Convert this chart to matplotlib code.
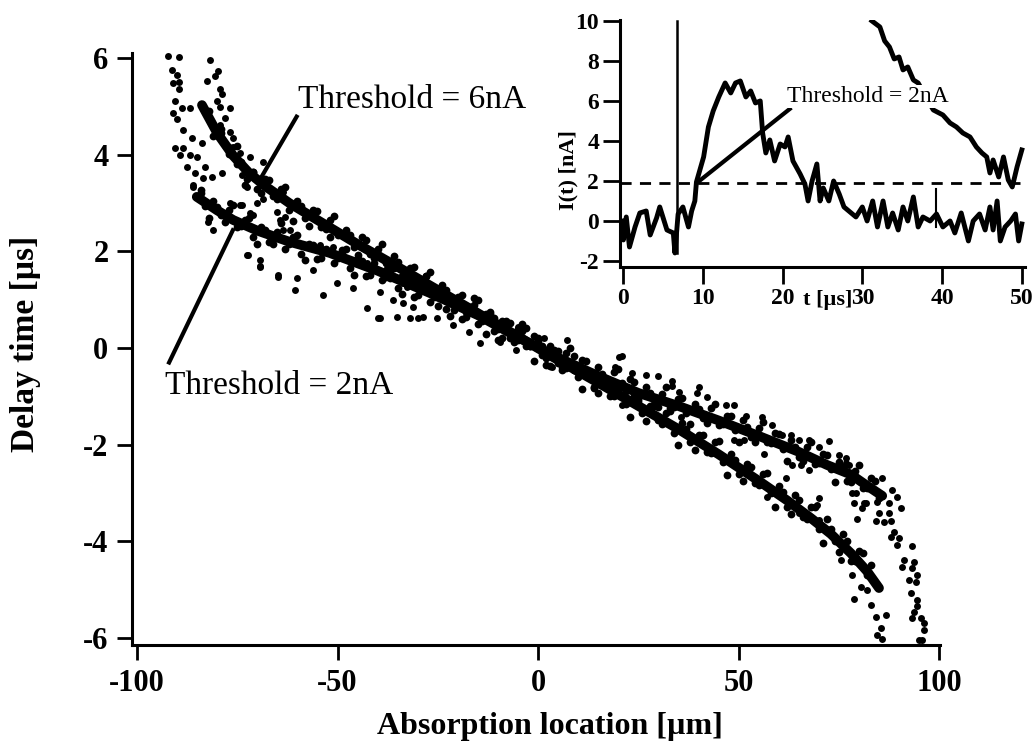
import matplotlib
matplotlib.use("Agg")
import matplotlib.pyplot as plt

plt.rcParams["font.family"] = ["Liberation Serif", "DejaVu Serif"]
plt.rcParams["axes.unicode_minus"] = False

# thick fitted curves (absorption location um, delay time us)
six_x = [-83.8, -80, -76, -72, -68, -62, -55, -45, -35, -25, -15, -5, 5, 15, 25, 35, 45, 55, 62, 68, 73, 78, 82, 85]
six_y = [5.03, 4.45, 3.98, 3.62, 3.35, 3.0, 2.65, 2.15, 1.68, 1.2, 0.72, 0.24, -0.25, -0.72, -1.2, -1.68, -2.2, -2.75, -3.15, -3.52, -3.85, -4.25, -4.62, -4.97]
two_x = [-85.1, -80, -76, -70, -62, -52, -40, -27, -15, -5, 5, 15, 25, 35, 45, 55, 65, 72, 78, 82, 85.8]
two_y = [3.13, 2.85, 2.65, 2.43, 2.2, 1.97, 1.6, 1.14, 0.68, 0.22, -0.2, -0.58, -0.93, -1.2, -1.5, -1.82, -2.15, -2.42, -2.62, -2.85, -3.06]

# measured points along the 6nA band
band6_x = [-82, -80.5, -79, -78, -76.5, -75, -74, -72.5, -71, -70, -68, -66, -64, -62, -60, -58, -56, -54, -52, -50,
           -48, -46, -44, -42, -40, -38, -36, -34, -32, -30, -28, -26, -24, -22, -20, -18, -16, -14, -12, -10,
           -8, -6, -4, -2, 0, 2, 4, 6, 8, 10, 12, 14, 16, 18, 20, 22, 24, 26, 28, 30,
           32, 34, 36, 38, 40, 42, 44, 46, 48, 50, 52, 54, 56, 58, 60, 62, 64, 66, 68, 70,
           72, 74, 76, 78, 80, 82, 83,
           -81, -79, -77, -75, -73, -71, -69, -67, -65, -63, -61, -59, -57, -55, -53, -51, -49, -47, -45, -43,
           -41, -39, -37, -35, -33, -31, -29, -27, -25, -23, -21, -19, -17, -15, -13, -11, -9, -7, -5, -3,
           -1, 1, 3, 5, 7, 9, 11, 13, 15, 17, 19, 21, 23, 25, 27, 29, 31, 33, 35, 37,
           39, 41, 43, 45, 47, 49, 51, 53, 55, 57, 59, 61, 63, 65, 67, 69, 71, 73, 75, 77,
           79, 81]
band6_y = [4.9, 4.55, 4.45, 4.2, 4.15, 3.8, 3.85, 3.5, 3.65, 3.3, 3.5, 3.15, 3.3, 2.85, 3.05, 2.7, 2.85, 2.5, 2.65, 2.35,
           2.45, 2.1, 2.3, 1.95, 2.05, 1.75, 1.9, 1.5, 1.65, 1.35, 1.5, 1.1, 1.3, 0.95, 1.05, 0.75, 0.9, 0.55, 0.7, 0.4,
           0.55, 0.2, 0.35, 0.05, 0.15, -0.2, -0.05, -0.45, -0.3, -0.6, -0.45, -0.8, -0.6, -1.0, -0.8, -1.15, -1.0, -1.35, -1.2, -1.5,
           -1.35, -1.75, -1.55, -1.95, -1.8, -2.15, -1.95, -2.35, -2.2, -2.6, -2.4, -2.8, -2.6, -3.0, -2.85, -3.3, -3.05, -3.5, -3.3, -3.75,
           -3.55, -4.0, -3.85, -4.4, -4.2, -4.7, -4.5,
           4.38, 4.53, 4.02, 4.18, 3.38, 3.65, 3.2, 3.48, 3.09, 3.34, 2.63, 2.95, 2.53, 2.83, 2.47, 2.73, 2.03, 2.35, 1.93, 2.23,
           1.87, 2.15, 1.46, 1.78, 1.36, 1.67, 1.31, 1.58, 0.88, 1.2, 0.78, 1.09, 0.74, 1.0, 0.3, 0.63, 0.21, 0.52, 0.16, 0.42,
           -0.27, 0.05, -0.37, -0.07, -0.42, -0.16, -0.85, -0.53, -0.94, -0.64, -0.99, -0.73, -1.42, -1.1, -1.52, -1.21, -1.57, -1.3, -2.0, -1.68,
           -2.11, -1.81, -2.18, -1.92, -2.63, -2.32, -2.75, -2.46, -2.83, -2.58, -3.3, -2.99, -3.43, -3.15, -3.54, -3.3, -4.04, -3.75, -4.23, -3.99,
           -4.42, -4.25]

# measured points along the 2nA band
band2_x = [-84, -83, -81, -79, -77, -75, -73, -71, -69, -67, -65, -63, -61, -59, -57, -55, -53, -51, -49, -47,
           -45, -43, -41, -39, -37, -35, -33, -31, -29, -27, -25, -23, -21, -19, -17, -15, -13, -11, -9, -7,
           -5, -3, -1, 1, 3, 5, 7, 9, 11, 13, 15, 17, 19, 21, 23, 25, 27, 29, 31, 33,
           35, 37, 39, 41, 43, 45, 47, 49, 51, 53, 55, 57, 59, 61, 63, 65, 67, 69, 71, 73,
           75, 77, 79, 81, 83, 85,
           -84, -82, -80, -78, -76, -74, -72, -70, -68, -66, -64, -62, -60, -58, -56, -54, -52, -50, -48, -46,
           -44, -42, -40, -38, -36, -34, -32, -30, -28, -26, -24, -22, -20, -18, -16, -14, -12, -10, -8, -6,
           -4, -2, 0, 2, 4, 6, 8, 10, 12, 14, 16, 18, 20, 22, 24, 26, 28, 30, 32, 34,
           36, 38, 40, 42, 44, 46, 48, 50, 52, 54, 56, 58, 60, 62, 64, 66, 68, 70, 72, 74,
           76, 78, 80, 82, 84]
band2_y = [3.2, 2.95, 3.05, 2.75, 2.85, 2.5, 2.65, 2.3, 2.5, 2.2, 2.4, 2.05, 2.3, 1.95, 2.15, 1.85, 2.05, 1.75, 1.95, 1.65,
           1.85, 1.5, 1.75, 1.4, 1.6, 1.25, 1.45, 1.05, 1.3, 0.95, 1.15, 0.8, 1.0, 0.6, 0.85, 0.5, 0.7, 0.35, 0.55, 0.2,
           0.4, 0.05, 0.25, -0.15, 0.05, -0.3, -0.1, -0.45, -0.25, -0.55, -0.4, -0.7, -0.5, -0.8, -0.65, -1.05, -0.8, -1.15, -0.95, -1.25,
           -1.05, -1.35, -1.15, -1.45, -1.25, -1.6, -1.4, -1.7, -1.5, -1.85, -1.65, -1.95, -1.75, -2.1, -1.9, -2.25, -2.05, -2.4, -2.2, -2.5,
           -2.35, -2.75, -2.55, -2.9, -2.7, -3.1,
           3.28, 2.69, 2.93, 2.6, 2.97, 2.53, 2.7, 2.15, 2.45, 2.16, 2.58, 2.15, 2.35, 1.83, 2.14, 1.87, 2.29, 1.86, 2.05, 1.51,
           1.81, 1.52, 1.92, 1.48, 1.66, 1.11, 1.4, 1.1, 1.5, 1.05, 1.23, 0.67, 0.95, 0.64, 1.04, 0.58, 0.74, 0.17, 0.44, 0.12,
           0.5, 0.04, 0.21, -0.35, -0.08, -0.39, 0.01, -0.44, -0.27, -0.82, -0.53, -0.83, -0.43, -0.88, -0.7, -1.24, -0.93, -1.22, -0.8, -1.22,
           -1.03, -1.57, -1.27, -1.56, -1.15, -1.58, -1.4, -1.94, -1.64, -1.94, -1.53, -1.97, -1.78, -2.33, -2.04, -2.34, -1.95, -2.39, -2.22, -2.77,
           -2.47, -2.77, -2.42, -2.9, -2.76]

# scattered points away from the bands
spread_x = [-92.3, -89.5, -81.8, -91.3, -90.0, -79.8, -80.6, -91.0, -89.5, -82.6, -89.5, -79.3, -78.8, -90.5, -88.8, -86.8,
            -80.1, -79.3, -76.8, -91.0, -90.0, -78.1, -79.3, -88.5, -76.8, -86.3, -83.8, -76.1, -90.5, -88.5, -89.3, -86.8,
            -85.1, -76.1, -74.3, -71.9, -68.6, -87.5, -83.1, -85.6, -78.8, -86.1, -83.6, -81.3, -73.8, -76.8, -74.3, -71.9,
            -70.1, -82.3, -65.1, -63.1, -63.6, -68.6, -72.6,
            -60.6, -64.9, -39.5, -32.0, -42.7, -53.7, -69.4, -72.6, -81.1, -86.1, -60.1, -56.1, -50.2, -46.1, -39.5, -36.2,
            -31.3, -28.8, -35.2, -40.0, -64.9, -69.4, -72.4, -69.4, -73.8, -71.1, -64.4, -63.6, -61.9, -54.4, -51.2, -46.1,
            -42.7, -37.7, -32.8,
            -30.0, -25.3, -21.3, -17.1, -14.6, -9.6, -5.4, 3.4, 7.1, 1.6, -5.1, 20.3, 19.1, 21.0, -33.7, -31.3, -33.7,
            20.8, 23.5, 27.0, 29.8, 33.5, 33.3, 35.2, 40.2, 39.7, 42.2, 46.9, 48.9, 51.9, 55.9, 58.4, 60.9, 63.1, 65.1,
            67.6, 72.6, 70.1, 75.1, 76.8, 77.6, 80.1, 78.3, 81.3,
            35.7, 48.9, 51.4, 56.4, 63.4, 65.6, 67.6, 61.9, 57.2, 70.1, 65.1, 69.6,
            76.8, 85.8, 88.3, 79.3, 78.8, 81.8, 80.8, 84.6, 87.5, 89.5, 90.5, 85.1, 87.5, 84.3, 86.3, 88.0, 79.6, 88.8,
            88.0, 90.0, 89.5, 93.3, 91.3, 93.8, 90.8, 93.3, 94.5, 92.5, 94.3, 93.0, 94.5, 94.5, 93.8, 93.3, 95.5, 96.3,
            96.3, 95.0, 95.8,
            75.6, 78.3, 80.6, 82.1, 78.8, 83.1, 84.3, 86.8, 85.6, 84.6, 85.8, 75.8, 70.1]
spread_y = [6.05, 6.02, 5.96, 5.76, 5.65, 5.73, 5.63, 5.49, 5.51, 5.53, 5.36, 5.36, 5.26, 5.11, 4.97, 4.97,
            5.11, 4.99, 4.97, 4.87, 4.74, 4.76, 4.62, 4.51, 4.47, 4.35, 4.24, 4.35, 4.14, 4.14, 4.0, 4.0,
            3.95, 4.16, 4.04, 3.95, 3.85, 3.75, 3.75, 3.62, 3.62, 3.33, 3.52, 3.54, 3.58, 3.0, 2.96, 2.8,
            3.0, 2.61, 2.82, 2.71, 3.23, 3.08, 3.33,
            1.2, 1.51, 0.62, 0.62, 0.83, 1.1, 1.7, 1.93, 2.44, 3.37, 1.45, 1.61, 1.35, 1.24, 1.16, 0.99,
            0.85, 0.64, 0.64, 0.62, 1.47, 1.68, 1.93, 1.82, 2.96, 2.75, 2.65, 2.44, 2.44, 2.13, 2.09, 1.82,
            1.76, 1.66, 1.26,
            0.62, 0.62, 0.48, 0.33, 0.1, 0.12, -0.04, -0.39, 0.17, 0.21, 0.43, -0.19, -0.39, -1.18, 1.35, 1.3, 0.93,
            -0.17, -0.52, -0.56, -0.58, -0.68, -0.79, -0.91, -0.81, -0.93, -1.01, -1.18, -1.18, -1.41, -1.43, -1.59, -1.8, -1.8, -1.9,
            -1.9, -1.93, -2.05, -2.22, -2.28, -2.42, -2.73, -3.0, -3.21,
            -1.43, -1.9, -1.9, -2.19, -2.42, -2.42, -2.53, -2.69, -3.08, -3.11, -3.42, -3.25,
            -2.38, -2.69, -2.94, -3.0, -3.21, -3.21, -3.31, -3.19, -3.21, -3.08, -3.31, -3.42, -3.42, -3.58, -3.6, -3.58, -3.54, -3.81,
            -3.91, -3.93, -4.08, -4.1, -4.39, -4.43, -4.53, -4.55, -4.7, -4.8, -4.84, -5.07, -5.22, -5.34, -5.47, -5.59, -5.59, -5.69,
            -5.84, -6.05, -6.05,
            -4.39, -4.7, -4.95, -5.01, -5.2, -5.32, -5.57, -5.53, -5.8, -5.94, -6.02, -4.08, -3.56]

# inset: current pulse I(t) in nA versus t in us
pulse_t = [0.0, 0.04, 0.4, 0.8, 1.5, 2.1, 2.9, 3.4, 4.2, 4.6, 5.5, 6.3, 6.5, 6.9, 7.5, 8.2, 8.6, 9.0, 9.2, 10.1,
           10.7, 11.3, 12.0, 12.8, 13.5, 14.1, 14.7, 15.4, 16.0, 16.6, 17.2, 17.5, 17.9, 18.4, 19.0, 19.7, 20.3, 20.7, 21.3, 22.2,
           22.8, 23.2, 23.7, 24.3, 24.7, 25.1, 25.8, 26.4, 27.1, 27.7, 28.3, 29.2, 30.0, 30.6, 31.3, 31.9, 32.6, 33.2, 33.8, 34.5,
           35.1, 35.7, 36.4, 37.0, 37.6, 38.5, 39.3, 40.1, 41.0, 41.6, 42.4, 43.3, 43.9, 44.7, 45.4, 46.0, 46.4, 46.9, 47.3, 47.9,
           48.6, 49.2, 49.6, 50.0]
pulse_i = [0.0, -0.95, 0.2, -1.3, -0.3, 0.4, 0.5, -0.7, 0.15, 0.7, -0.45, -0.6, -1.6, 0.35, 0.7, -0.3, 0.5, 1.0, 1.95, 3.2,
           4.7, 5.5, 6.2, 6.9, 6.4, 6.9, 7.0, 6.2, 6.5, 5.9, 6.0, 4.4, 3.4, 4.05, 3.0, 3.85, 3.7, 4.2, 3.0, 2.35,
           1.85, 1.0, 2.0, 2.85, 1.0, 1.65, 1.0, 2.0, 1.35, 0.7, 0.5, 0.2, 0.7, 0.0, 1.0, -0.3, 1.0, -0.3, 0.4, -0.45,
           0.7, 0.0, 1.2, -0.3, 0.2, 0.0, 0.35, -0.3, 0.0, -0.6, 0.4, -1.0, 0.0, 0.35, -0.45, 0.7, -0.45, 1.0, -1.0, -0.3,
           0.0, 0.35, -1.0, -0.15]
next_t = [31.2, 32.2, 32.8, 33.4, 34.0, 34.6, 35.1, 35.7, 36.4, 37.0, 38.9, 40.1, 41.0, 41.8, 42.6, 43.5, 44.3, 45.0,
          45.6, 46.0, 46.4, 47.1, 47.7, 48.3, 48.8, 49.4, 50.0]
next_i = [10.0, 9.7, 9.0, 8.7, 8.1, 8.2, 7.55, 7.7, 7.05, 6.9, 5.55, 5.3, 4.9, 4.7, 4.4, 4.2, 3.7, 3.4,
          3.2, 2.4, 3.05, 2.2, 3.2, 2.05, 1.7, 2.7, 3.55]
threshold = 1.9
trigger_t = 6.75
spike_t = 39.3

fig = plt.figure(figsize=(10.36, 7.47), dpi=100)

ax = fig.add_axes([0.1274, 0.1365, 0.7799, 0.792])
ax.plot(spread_x, spread_y, "o", color="black", ms=5, mew=0, clip_on=False)
ax.plot(band6_x, band6_y, "o", color="black", ms=5.6, mew=0)
ax.plot(band2_x, band2_y, "o", color="black", ms=5.6, mew=0)
ax.plot(six_x, six_y, color="black", lw=7, solid_capstyle="round", solid_joinstyle="round")
ax.plot(two_x, two_y, color="black", lw=7, solid_capstyle="round", solid_joinstyle="round")

ax.plot([-60.2, -69.4], [4.79, 3.48], color="black", lw=3)
ax.plot([-76.1, -92.0], [2.44, -0.3], color="black", lw=3)
ax.text(-59.9, 4.97, "Threshold = 6nA", fontsize=24, va="baseline", ha="left")
ax.text(-93.0, -0.95, "Threshold = 2nA", fontsize=24, va="baseline", ha="left")

ax.set_xlim(-101.25, 100.2)
ax.set_ylim(-6.15, 6.1)
ax.set_xticks([-100, -50, 0, 50, 100])
ax.set_yticks([-6, -4, -2, 0, 2, 4, 6])
for s in ["top", "right"]:
    ax.spines[s].set_visible(False)
for s in ["left", "bottom"]:
    ax.spines[s].set_linewidth(2.2)
ax.tick_params(direction="out", length=11, width=2, labelsize=22, pad=6)
for lab in ax.get_xticklabels() + ax.get_yticklabels():
    lab.set_fontweight("bold")

fig.text(0.531, 0.027, "Absorption location [µm]", fontsize=23, fontweight="bold", ha="center", va="center")
fig.text(0.025, 0.54, "Delay time [µs]", fontsize=24, fontweight="bold", ha="center", va="center", rotation=90)

# inset
ax2 = fig.add_axes([0.5985, 0.6426, 0.3909, 0.3307])
ax2.patch.set_alpha(0)
ax2.axhline(threshold, color="black", lw=2, ls=(0, (4, 3)))
ax2.plot([trigger_t, trigger_t], [-1.6, 10.0], color="black", lw=1.8, clip_on=False)
ax2.plot([spike_t, spike_t], [-0.3, 1.6], color="black", lw=1.5)
ax2.plot(pulse_t, pulse_i, color="black", lw=3.5, solid_joinstyle="round")
ax2.plot(next_t, next_i, color="black", lw=3.5, solid_joinstyle="round")
ax2.plot([9.4, 20.9], [1.95, 5.6], color="black", lw=3)
ax2.text(20.5, 5.95, "Threshold = 2nA", fontsize=17, va="baseline", ha="left",
         bbox=dict(facecolor="white", edgecolor="none", pad=1), zorder=5)

ax2.set_xlim(-0.38, 50.4)
ax2.set_ylim(-2.3, 10.05)
ax2.set_xticks([0, 10, 20, 30, 40, 50])
ax2.set_yticks([-2, 0, 2, 4, 6, 8, 10])
for s in ["top", "right"]:
    ax2.spines[s].set_visible(False)
for s in ["left", "bottom"]:
    ax2.spines[s].set_linewidth(2.2)
ax2.tick_params(direction="out", length=12, width=2, labelsize=17, pad=3)
for lab in ax2.get_xticklabels() + ax2.get_yticklabels():
    lab.set_fontweight("bold")

fig.text(828 / 1036, 1 - 300 / 747, "t [µs]", fontsize=16, fontweight="bold", ha="center", va="center")
fig.text(568 / 1036, 1 - 170 / 747, "I(t) [nA]", fontsize=16, fontweight="bold", ha="center", va="center", rotation=90)

fig.savefig("out.png", dpi=100)
